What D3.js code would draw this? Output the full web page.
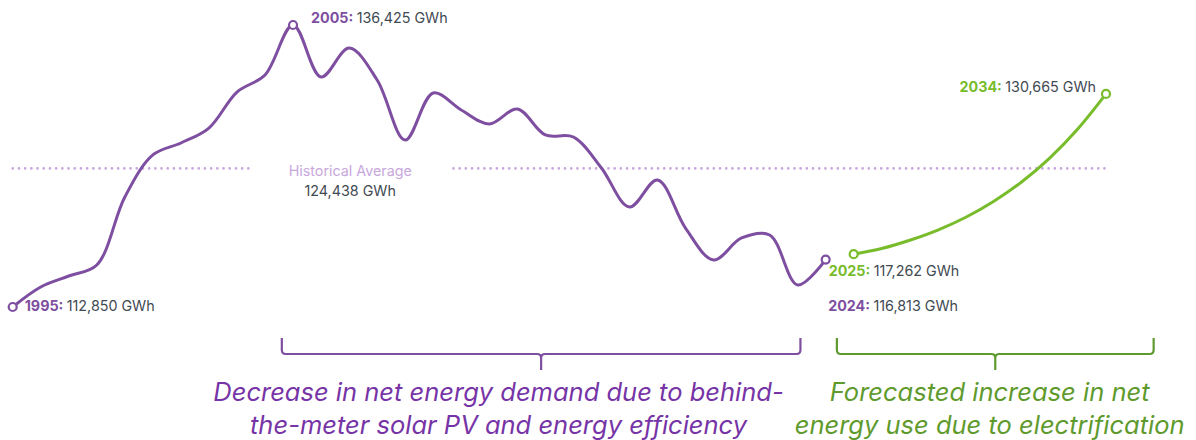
<!DOCTYPE html>
<html><head><meta charset="utf-8">
<script src="https://cdn.jsdelivr.net/npm/d3@7"></script>
<style>
html,body{margin:0;padding:0;background:#fff;}
svg{display:block;}
text{font-family:Inter,"Open Sans",sans-serif;}
</style></head>
<body>
<svg id="chart" width="1196" height="440"></svg>
<script>
// ---- data ----
const histYears = d3.range(1995, 2025);
const histValues = [112850,114520,115440,116360,122050,125560,126560,127810,130820,132250,
  136425,132080,134500,131830,126810,130740,129320,128150,129400,127230,
  127060,124470,121210,123470,119450,116780,118620,118870,114690,116813];
const fcYears = d3.range(2025, 2035);
const fcValues = [117262,117740,118430,119280,120350,121690,123320,125320,127750,130665];
const historicalAverage = 124438;
const avgLabel = ["Historical Average", "124,438 GWh"];
const pointLabels = [
  {year:1995, value:112850, series:"hist", text:"112,850 GWh"},
  {year:2005, value:136425, series:"hist", text:"136,425 GWh"},
  {year:2024, value:116813, series:"hist", text:"116,813 GWh"},
  {year:2025, value:117262, series:"fc", text:"117,262 GWh"},
  {year:2034, value:130665, series:"fc", text:"130,665 GWh"}
];
const notes = [
  {series:"hist", from:2004.6, to:2023.1, textAt:2012.33, lines:["Decrease in net energy demand due to behind-","the-meter solar PV and energy efficiency"]},
  {series:"fc", from:2024.4, to:2035.7, textAt:2029.85, lines:["Forecasted increase in net","energy use due to electrification"]}
];

// ---- styles ----
const C = {hist:"#7e4fa0", fc:"#78bc2c", avg:"#c8a8dc", label:"#3f4a52",
  noteHist:"#7634a6", noteFc:"#5f9a2d", bracketHist:"#7e4fa0", bracketFc:"#5e9a2e"};

const svg = d3.select("#chart");
const x = d3.scaleLinear().domain([1995, 2034]).range([12.7, 1106]);
const y = d3.scaleLinear().domain([112850, 136425]).range([307, 25]);

// average dotted line (with gap for label)
const avgY = y(historicalAverage);
[[1995, 2003.55],[2010.72, 2034]].forEach(([a,b]) => {
  svg.append("line").attr("x1", x(a)).attr("x2", x(b)).attr("y1", avgY).attr("y2", avgY)
    .attr("stroke", C.avg).attr("stroke-width", 2.6).attr("stroke-linecap","round")
    .attr("stroke-dasharray","0.1,6.1");
});
svg.append("text").attr("x", x(2007.04)).attr("y", avgY + 8).attr("text-anchor","middle")
  .attr("font-size", 14.3).attr("fill", C.avg).text(avgLabel[0]);
svg.append("text").attr("x", x(2007.04)).attr("y", avgY + 28).attr("text-anchor","middle")
  .attr("font-size", 14.3).attr("fill", C.label).text(avgLabel[1]);

const line = d3.line().x(d => x(d[0])).y(d => y(d[1])).curve(d3.curveCatmullRom.alpha(0.5));
const hist = histYears.map((yr,i) => [yr, histValues[i]]);
const fc = fcYears.map((yr,i) => [yr, fcValues[i]]);

svg.append("path").datum(hist).attr("d", line).attr("fill","none")
  .attr("stroke", C.hist).attr("stroke-width", 3).attr("stroke-linejoin","round");
svg.append("path").datum(fc).attr("d", line).attr("fill","none")
  .attr("stroke", C.fc).attr("stroke-width", 3).attr("stroke-linejoin","round");

// end markers
const markers = [[hist[0],"hist"],[hist[10],"hist"],[hist[hist.length-1],"hist"],[fc[0],"fc"],[fc[fc.length-1],"fc"]];
svg.selectAll("circle.m").data(markers).join("circle")
  .attr("cx", d => x(d[0][0])).attr("cy", d => y(d[0][1])).attr("r", 4)
  .attr("fill","#fff").attr("stroke", d => C[d[1]]).attr("stroke-width", 2.2);

// point labels
const labelPos = {
  1995: {dx: 12, dy: 4, anchor:"start"},
  2005: {dx: 18, dy: -2, anchor:"start"},
  2024: {dx: 2.5, dy: 51, anchor:"start"},
  2025: {dx: -25, dy: 22, anchor:"start"},
  2034: {dx: -10, dy: -2, anchor:"end"}
};
pointLabels.forEach(p => {
  const pos = labelPos[p.year];
  const t = svg.append("text").attr("x", x(p.year) + pos.dx).attr("y", y(p.value) + pos.dy)
    .attr("text-anchor", pos.anchor).attr("font-size", 14.3).attr("fill", C.label);
  t.append("tspan").attr("font-weight", 700).attr("fill", C[p.series]).text(p.year + ": ");
  t.append("tspan").text(p.text);
});

// brackets + notes
notes.forEach(n => {
  const x1 = x(n.from), x2 = x(n.to), xm = (x1 + x2) / 2;
  const top = 338, mid = 354, bot = 370, r = 4;
  const col = n.series === "hist" ? C.bracketHist : C.bracketFc;
  const p = d3.path();
  p.moveTo(x1, top); p.lineTo(x1, mid - r); p.quadraticCurveTo(x1, mid, x1 + r, mid);
  p.lineTo(xm - r, mid); p.quadraticCurveTo(xm, mid, xm, mid + r); p.lineTo(xm, bot);
  p.moveTo(xm, mid + r); p.quadraticCurveTo(xm, mid, xm + r, mid);
  p.lineTo(x2 - r, mid); p.quadraticCurveTo(x2, mid, x2, mid - r); p.lineTo(x2, top);
  svg.append("path").attr("d", p.toString()).attr("fill","none").attr("stroke", col).attr("stroke-width", 2.2);
  const tc = n.series === "hist" ? C.noteHist : C.noteFc;
  n.lines.forEach((ln, i) => {
    svg.append("text").attr("x", x(n.textAt)).attr("y", 401 + i * 33)
      .attr("text-anchor","middle").attr("font-size", 25.5).attr("font-style","italic")
      .attr("fill", tc).text(ln);
  });
});
</script>
</body></html>
